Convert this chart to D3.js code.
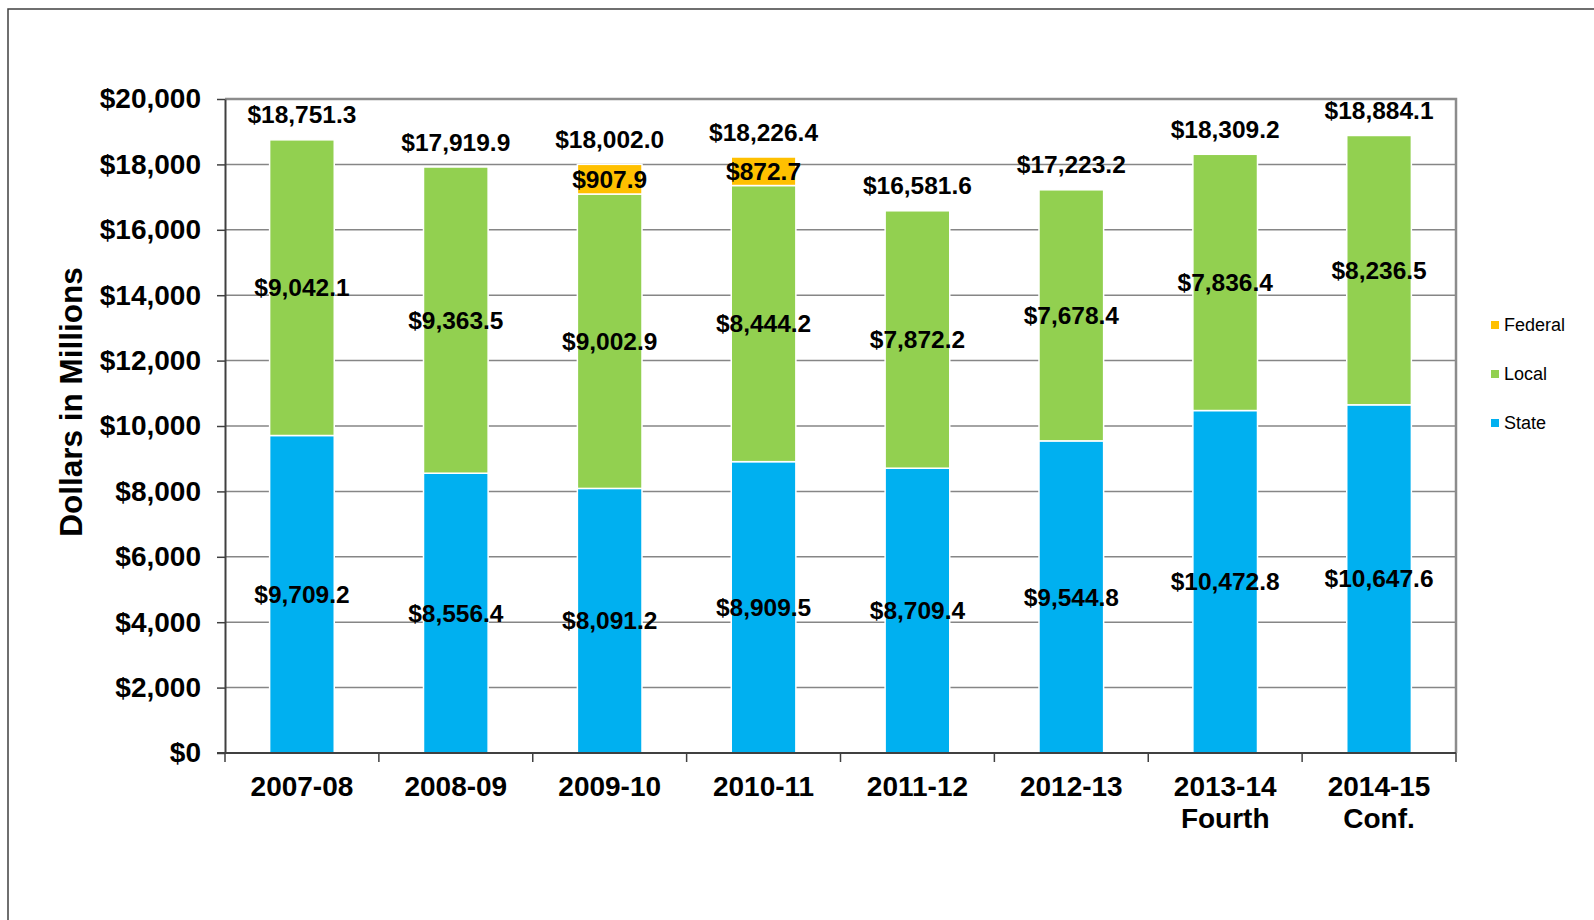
<!DOCTYPE html>
<html>
<head>
<meta charset="utf-8">
<script src="https://cdn.jsdelivr.net/npm/d3@7"></script>
<style>
  html, body { margin: 0; padding: 0; background: #fff; }
  svg { display: block; font-family: 'Liberation Sans', Arial, sans-serif; }
</style>
</head>
<body>
<div id="chart"></div>
<script>
const categories = ['2007-08', '2008-09', '2009-10', '2010-11', '2011-12', '2012-13', '2013-14|Fourth', '2014-15|Conf.'];
const stateVals = [9709.2, 8556.4, 8091.2, 8909.5, 8709.4, 9544.8, 10472.8, 10647.6];
const localVals = [9042.1, 9363.5, 9002.9, 8444.2, 7872.2, 7678.4, 7836.4, 8236.5];
const federalVals = [0, 0, 907.9, 872.7, 0, 0, 0, 0];
const totals = [18751.3, 17919.9, 18002.0, 18226.4, 16581.6, 17223.2, 18309.2, 18884.1];
const yTicks = [0, 2000, 4000, 6000, 8000, 10000, 12000, 14000, 16000, 18000, 20000];
const seriesNames = ['State', 'Local', 'Federal'];
const colors = { State: '#00B0F0', Local: '#92D050', Federal: '#FFC000' };

const W = 1594, H = 920;
const margin = { top: 99, right: 138, bottom: 167, left: 225 };
const width = W - margin.left - margin.right;
const height = H - margin.top - margin.bottom;

const svg = d3.select('#chart').append('svg')
  .attr('width', W)
  .attr('height', H);

// outer frame
svg.append('rect')
  .attr('x', 8).attr('y', 9)
  .attr('width', W + 20).attr('height', H + 20)
  .attr('fill', 'none')
  .attr('stroke', '#404040')
  .attr('stroke-width', 1.5);

const g = svg.append('g')
  .attr('transform', `translate(${margin.left},${margin.top})`);

const x = d3.scaleBand()
  .domain(categories)
  .range([0, width])
  .paddingInner(0.58)
  .paddingOuter(0.29);

const y = d3.scaleLinear()
  .domain([0, 20000])
  .range([height, 0]);

// gridlines
g.selectAll('.grid')
  .data(yTicks.slice(1))
  .join('line')
  .attr('class', 'grid')
  .attr('x1', 0).attr('x2', width)
  .attr('y1', (d) => y(d)).attr('y2', (d) => y(d))
  .attr('stroke', '#868686')
  .attr('stroke-width', 1.5);

// plot border (top and right)
g.append('path')
  .attr('d', `M0,0H${width}V${height}`)
  .attr('fill', 'none')
  .attr('stroke', '#8c8c8c')
  .attr('stroke-width', 2.5);

// stacked bars
const rows = categories.map((c, i) => ({
  cat: c, State: stateVals[i], Local: localVals[i], Federal: federalVals[i],
}));
const stack = d3.stack().keys(seriesNames)(rows);

const layers = g.selectAll('.layer')
  .data(stack)
  .join('g')
  .attr('class', 'layer')
  .attr('fill', (d) => colors[d.key]);

layers.selectAll('rect')
  .data((d) => d.filter((s) => s[1] - s[0] > 0))
  .join('rect')
  .attr('x', (d) => x(d.data.cat))
  .attr('width', x.bandwidth())
  .attr('y', (d) => y(d[1]))
  .attr('height', (d) => y(d[0]) - y(d[1]))
  .attr('stroke', '#fff')
  .attr('stroke-width', 1.5);

// segment labels
const fmt = (v) => '$' + d3.format(',.1f')(v);
layers.selectAll('.seg-label')
  .data((d) => d.filter((s) => s[1] - s[0] > 0))
  .join('text')
  .attr('class', 'seg-label')
  .attr('x', (d) => x(d.data.cat) + x.bandwidth() / 2)
  .attr('y', (d) => y((d[0] + d[1]) / 2))
  .attr('dy', '0.35em')
  .attr('text-anchor', 'middle')
  .attr('fill', '#000')
  .style('font-size', '24.5px')
  .style('font-weight', 'bold')
  .text((d) => fmt(d[1] - d[0]));

// total labels
g.selectAll('.total-label')
  .data(totals)
  .join('text')
  .attr('class', 'total-label')
  .attr('x', (d, i) => x(categories[i]) + x.bandwidth() / 2)
  .attr('y', (d) => y(d) - 25)
  .attr('dy', '0.35em')
  .attr('text-anchor', 'middle')
  .style('font-size', '24.5px')
  .style('font-weight', 'bold')
  .text((d) => fmt(d));

// y axis
const yAxisG = g.append('g')
  .call(d3.axisLeft(y).tickValues(yTicks).tickSize(8).tickSizeOuter(0).tickPadding(16)
    .tickFormat((d) => '$' + d3.format(',')(d)));
yAxisG.selectAll('text')
  .style('font-size', '28px')
  .style('font-weight', 'bold')
  .style('font-family', "'Liberation Sans', Arial, sans-serif")
  .attr('fill', '#000');
yAxisG.selectAll('line').attr('stroke', '#404040').attr('stroke-width', 1.5);
yAxisG.select('.domain').attr('stroke', '#404040').attr('stroke-width', 2);

// x axis
const xAxisG = g.append('g')
  .attr('transform', `translate(0,${height})`);
xAxisG.append('line')
  .attr('x1', -8).attr('x2', width)
  .attr('stroke', '#404040').attr('stroke-width', 2);
const bounds = d3.range(categories.length + 1).map((i) => i * x.step());
xAxisG.selectAll('.xtick')
  .data(bounds)
  .join('line')
  .attr('class', 'xtick')
  .attr('x1', (d) => d).attr('x2', (d) => d)
  .attr('y1', 0).attr('y2', 9)
  .attr('stroke', '#404040').attr('stroke-width', 1.5);

const xLabels = xAxisG.selectAll('.xlabel')
  .data(categories)
  .join('text')
  .attr('class', 'xlabel')
  .attr('text-anchor', 'middle')
  .style('font-size', '28px')
  .style('font-weight', 'bold')
  .attr('transform', (d) => `translate(${x(d) + x.bandwidth() / 2},33)`);
xLabels.selectAll('tspan')
  .data((d) => d.split('|'))
  .join('tspan')
  .attr('x', 0)
  .attr('y', (d, i) => i * 32)
  .attr('dy', '0.35em')
  .text((d) => d);

// y axis title
svg.append('text')
  .attr('transform', 'translate(71,402) rotate(-90)')
  .attr('text-anchor', 'middle')
  .attr('dy', '0.35em')
  .style('font-size', '31.5px')
  .style('font-weight', 'bold')
  .text('Dollars in Millions');

// legend
const legendItems = ['Federal', 'Local', 'State'];
const legend = svg.append('g')
  .attr('transform', 'translate(1491,325)');
const li = legend.selectAll('g')
  .data(legendItems)
  .join('g')
  .attr('transform', (d, i) => `translate(0,${i * 49})`);
li.append('rect')
  .attr('x', 0).attr('y', -4)
  .attr('width', 8).attr('height', 8)
  .attr('fill', (d) => colors[d]);
li.append('text')
  .attr('x', 13)
  .attr('dy', '0.35em')
  .style('font-size', '18px')
  .text((d) => d);
</script>
</body>
</html>
